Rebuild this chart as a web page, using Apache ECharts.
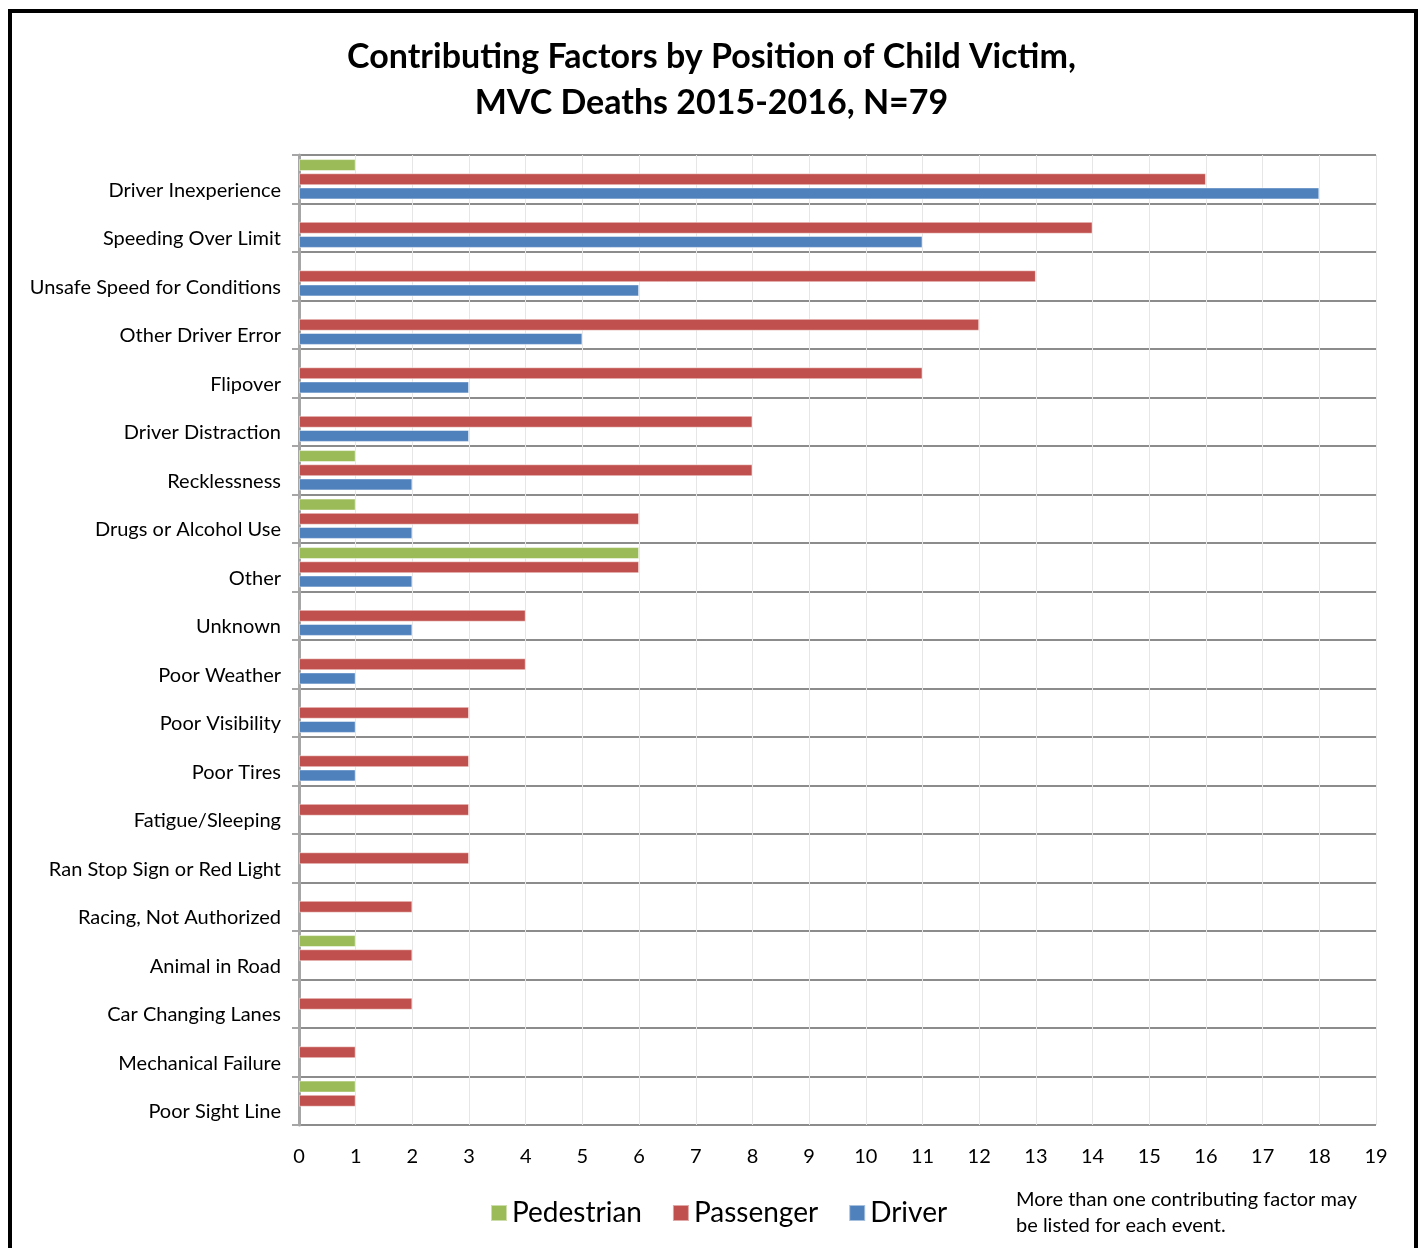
<!DOCTYPE html>
<html><head><meta charset="utf-8">
<script src="https://cdn.jsdelivr.net/npm/echarts@6/dist/echarts.min.js"></script>
<style>html,body{margin:0;padding:0;background:#fff}#c{width:1423px;height:1248px}</style>
</head><body><div id="c"></div>
<script>
const categories = ["Driver Inexperience","Speeding Over Limit","Unsafe Speed for Conditions","Other Driver Error","Flipover","Driver Distraction","Recklessness","Drugs or Alcohol Use","Other","Unknown","Poor Weather","Poor Visibility","Poor Tires","Fatigue/Sleeping","Ran Stop Sign or Red Light","Racing, Not Authorized","Animal in Road","Car Changing Lanes","Mechanical Failure","Poor Sight Line"];
const pedestrian = [1,0,0,0,0,0,1,1,6,0,0,0,0,0,0,0,1,0,0,1];
const passenger  = [16,14,13,12,11,8,8,6,6,4,4,3,3,3,3,2,2,2,1,1];
const driver     = [18,11,6,5,3,3,2,2,2,2,1,1,1,0,0,0,0,0,0,0];
const xTicks = [0,1,2,3,4,5,6,7,8,9,10,11,12,13,14,15,16,17,18,19];

const font = "Lato, 'Open Sans', sans-serif";
const chart = echarts.init(document.getElementById('c'));
function ser(name, data, color){
  return {name, type:'bar', data: data.map(v => v === 0 ? null : v), barWidth:12, barGap:'18%',
    itemStyle:{color, borderColor:'rgba(255,255,255,0.5)', borderWidth:1}};
}
chart.setOption({
  animation:false,
  title:{text:'Contributing Factors by Position of Child Victim,\nMVC Deaths 2015-2016, N=79', left:'center', top:29,
    textStyle:{fontFamily:font, fontWeight:'bold', fontSize:34, color:'#000', lineHeight:46}},
  grid:{left:299, right:47, top:155, bottom:123},
  legend:{bottom:16, left:485, itemWidth:16, itemHeight:16, itemGap:30, icon:'rect',
    textStyle:{fontFamily:font, fontSize:28, color:'#000'}},
  xAxis:{type:'value', min:0, max:19, interval:1,
    axisLine:{show:false}, axisTick:{show:false},
    axisLabel:{fontFamily:font, fontSize:20, color:'#000', margin:22, formatter:v => String(xTicks[v])},
    splitLine:{show:true, lineStyle:{color:'#e6e6e6', width:1}}},
  yAxis:{type:'category', data:categories, inverse:true,
    axisLine:{show:true, lineStyle:{color:'#a6a6a6', width:3}},
    axisTick:{show:true, length:7, interval:0, lineStyle:{color:'#a6a6a6', width:2}},
    axisLabel:{fontFamily:font, fontSize:20, color:'#000', margin:18, interval:0, verticalAlign:'top', lineHeight:22},
    splitLine:{show:true, interval:0, lineStyle:{color:'#8c8c8c', width:2}}},
  series:[ser('Pedestrian', pedestrian, '#9bbb59'), ser('Passenger', passenger, '#c0504d'), ser('Driver', driver, '#4f81bd')],
  graphic:[
    {type:'rect', shape:{x:10, y:11, width:1406, height:1260}, style:{fill:'none', stroke:'#000', lineWidth:4}, silent:true},
    {type:'text', left:1016, top:1187, style:{text:'More than one contributing factor may\nbe listed for each event.', fontFamily:font, fontSize:20, fill:'#000', lineHeight:26}}
  ]
});
</script></body></html>
